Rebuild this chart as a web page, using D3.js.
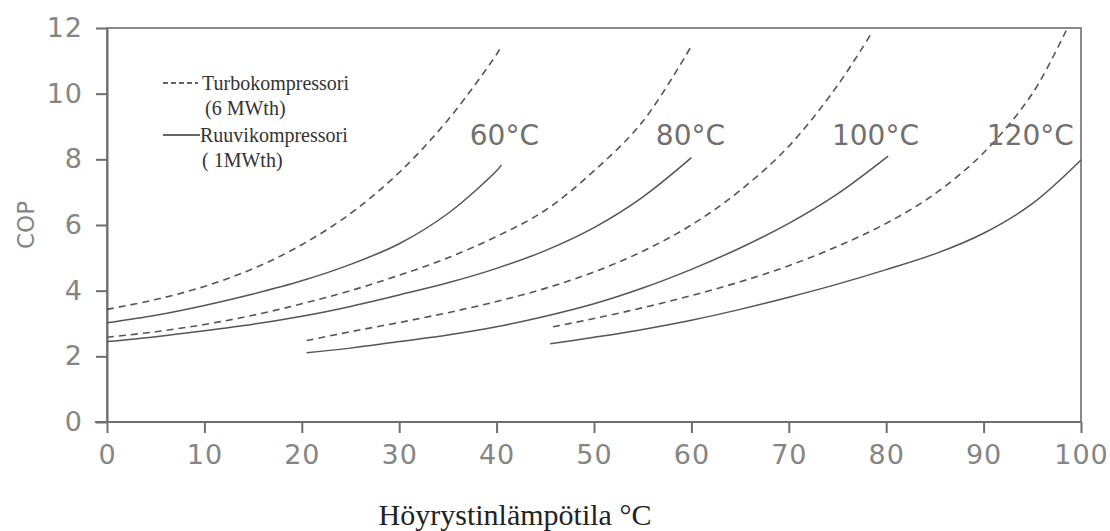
<!DOCTYPE html>
<html>
<head>
<meta charset="utf-8">
<script src="https://cdn.jsdelivr.net/npm/d3@7"></script>
<style>
  html, body { margin: 0; padding: 0; background: #fff; }
  svg { display: block; }
</style>
</head>
<body>
<svg id="chart" width="1110" height="531"></svg>
<script>
// ---- data ----
const xTicks = [0, 10, 20, 30, 40, 50, 60, 70, 80, 90, 100];
const yTicks = [0, 2, 4, 6, 8, 10, 12];

// Turbokompressori (dashed) curves, by condensing temperature
const turbo60x  = [0, 5, 10, 15, 20, 25, 30, 35, 40, 40.5];
const turbo60y  = [3.43, 3.73, 4.13, 4.67, 5.4, 6.35, 7.6, 9.2, 11.2, 11.45];
const turbo80x  = [0, 5, 10, 15, 20, 25, 30, 35, 40, 45, 50, 55, 60];
const turbo80y  = [2.58, 2.75, 2.97, 3.25, 3.6, 4.0, 4.47, 5.0, 5.65, 6.45, 7.65, 9.15, 11.45];
const turbo100x = [20.5, 25, 30, 35, 40, 45, 50, 55, 60, 65, 70, 75, 78.4];
const turbo100y = [2.48, 2.75, 3.03, 3.33, 3.67, 4.07, 4.57, 5.2, 6.0, 7.05, 8.4, 10.25, 11.8];
const turbo120x = [45.8, 50, 55, 60, 65, 70, 75, 80, 85, 90, 95, 98.6];
const turbo120y = [2.9, 3.15, 3.48, 3.85, 4.27, 4.76, 5.35, 6.05, 6.95, 8.2, 10.0, 12.0];

// Ruuvikompressori (solid) curves
const screw60x  = [0, 5, 10, 15, 20, 25, 30, 35, 40, 40.5];
const screw60y  = [3.02, 3.25, 3.55, 3.9, 4.3, 4.8, 5.43, 6.35, 7.65, 7.83];
const screw80x  = [0, 5, 10, 15, 20, 25, 30, 35, 40, 45, 50, 55, 60];
const screw80y  = [2.45, 2.6, 2.78, 2.98, 3.22, 3.52, 3.87, 4.24, 4.68, 5.22, 5.92, 6.85, 8.05];
const screw100x = [20.5, 25, 30, 35, 40, 45, 50, 55, 60, 65, 70, 75, 80.2];
const screw100y = [2.11, 2.25, 2.45, 2.65, 2.9, 3.22, 3.6, 4.08, 4.65, 5.3, 6.05, 6.95, 8.1];
const screw120x = [45.5, 50, 55, 60, 65, 70, 75, 80, 85, 90, 95, 100];
const screw120y = [2.38, 2.58, 2.82, 3.1, 3.43, 3.8, 4.2, 4.64, 5.12, 5.75, 6.65, 7.98];

// curve labels (condensing temperature), anchored in data units
const curveLabels = ["60°C", "80°C", "100°C", "120°C"];
const curveLabelX = [40.8, 59.9, 78.9, 94.8];
const curveLabelY = [8.45, 8.45, 8.45, 8.45];

const legendLabels = [["Turbokompressori", "(6 MWth)"], ["Ruuvikompressori", "( 1MWth)"]];
const xTitle = "Höyrystinlämpötila °C";
const yTitle = "COP";

// ---- layout ----
const svg = d3.select("#chart");
const mLeft = 107, mRight = 1081, mTop = 28, mBottom = 422;
const x = d3.scaleLinear().domain([0, 100]).range([mLeft, mRight]);
const y = d3.scaleLinear().domain([0, 12]).range([mBottom, mTop]);

const axisColor = "#6e6e6e";
const lineColor = "#555";
const labelColor = "#858585";
const tickFont = "'DejaVu Sans', Verdana, sans-serif";

// frame
svg.append("rect")
  .attr("x", mLeft).attr("y", mTop)
  .attr("width", mRight - mLeft).attr("height", mBottom - mTop)
  .attr("fill", "none").attr("stroke", "#8a8a8a").attr("stroke-width", 2);

// x axis
const gx = svg.append("g").attr("transform", `translate(0,${mBottom})`)
  .call(d3.axisBottom(x).tickValues(xTicks).tickSize(11).tickPadding(12).tickSizeOuter(0));
gx.select(".domain").attr("stroke", axisColor).attr("stroke-width", 2).attr("d", `M${mLeft - 12},0H${mRight}`);
gx.selectAll(".tick line").attr("stroke", axisColor).attr("stroke-width", 2);
gx.selectAll(".tick text").attr("fill", labelColor).attr("font-family", tickFont).attr("font-size", 27)
  .attr("letter-spacing", 1);

// y axis
const gy = svg.append("g").attr("transform", `translate(${mLeft},0)`)
  .call(d3.axisLeft(y).tickValues(yTicks).tickSize(11).tickPadding(13).tickSizeOuter(0));
gy.select(".domain").attr("stroke", axisColor).attr("stroke-width", 2);
gy.selectAll(".tick line").attr("stroke", axisColor).attr("stroke-width", 2);
gy.selectAll(".tick text").attr("fill", labelColor).attr("font-family", tickFont).attr("font-size", 27)
  .attr("letter-spacing", 1);

// curves
const line = d3.line().x(d => x(d[0])).y(d => y(d[1])).curve(d3.curveCatmullRom.alpha(0.5));
const zip = (a, b) => a.map((v, i) => [v, b[i]]);
const turboSeries = [zip(turbo60x, turbo60y), zip(turbo80x, turbo80y), zip(turbo100x, turbo100y), zip(turbo120x, turbo120y)];
const screwSeries = [zip(screw60x, screw60y), zip(screw80x, screw80y), zip(screw100x, screw100y), zip(screw120x, screw120y)];

svg.append("g").selectAll("path").data(turboSeries).join("path")
  .attr("d", line).attr("fill", "none").attr("stroke", lineColor)
  .attr("stroke-width", 1.6).attr("stroke-dasharray", "7,5");
svg.append("g").selectAll("path").data(screwSeries).join("path")
  .attr("d", line).attr("fill", "none").attr("stroke", lineColor)
  .attr("stroke-width", 1.5);

// curve labels
svg.append("g").selectAll("text").data(curveLabels).join("text")
  .attr("x", (d, i) => x(curveLabelX[i])).attr("y", (d, i) => y(curveLabelY[i]))
  .attr("text-anchor", "middle").attr("font-family", tickFont).attr("font-size", 28)
  .attr("fill", "#707070").text(d => d);

// legend
const serif = "'Liberation Serif', 'Times New Roman', serif";
const lg = svg.append("g");
lg.append("line").attr("x1", 163).attr("x2", 198).attr("y1", 83).attr("y2", 83)
  .attr("stroke", "#333").attr("stroke-width", 1.6).attr("stroke-dasharray", "5,3");
lg.append("line").attr("x1", 163).attr("x2", 200).attr("y1", 135).attr("y2", 135)
  .attr("stroke", "#333").attr("stroke-width", 1.6);
const legRows = [[202, 90, legendLabels[0][0]], [205, 115, legendLabels[0][1]], [200, 142, legendLabels[1][0]], [202, 167, legendLabels[1][1]]];
lg.selectAll("text").data(legRows).join("text")
  .attr("x", d => d[0]).attr("y", d => d[1])
  .attr("font-family", serif).attr("font-size", 20).attr("fill", "#333")
  .text(d => d[2]);

// axis titles
svg.append("text").attr("x", 515).attr("y", 525).attr("text-anchor", "middle")
  .attr("font-family", serif).attr("font-size", 30).attr("fill", "#222").text(xTitle);
svg.append("text").attr("transform", "translate(34,225) rotate(-90)").attr("text-anchor", "middle")
  .attr("font-family", tickFont).attr("font-size", 23).attr("fill", labelColor).text(yTitle);
</script>
</body>
</html>
